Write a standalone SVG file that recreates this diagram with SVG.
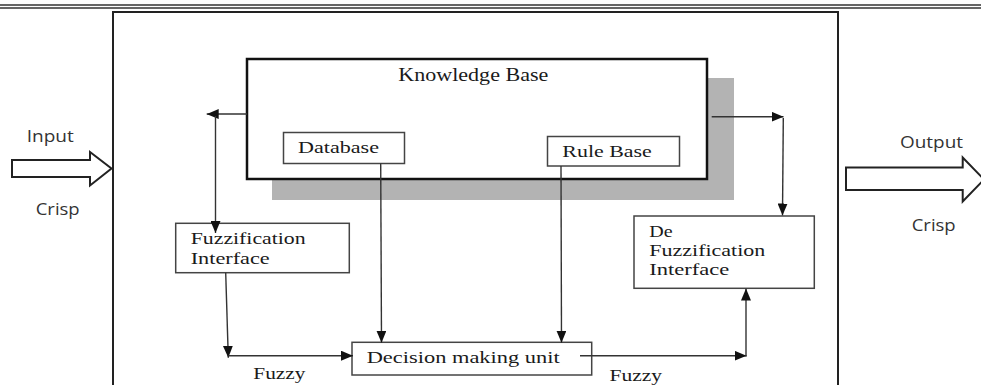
<svg xmlns="http://www.w3.org/2000/svg" width="981" height="385" viewBox="0 0 981 385">
<defs>
<marker id="ah" markerUnits="userSpaceOnUse" markerWidth="12" markerHeight="10" refX="12" refY="5" orient="auto" viewBox="0 0 12 10">
<path d="M0,0 L12,5 L0,10 z" fill="#111"/>
</marker>
<style>
.serif{font-family:"Liberation Serif","Times New Roman",serif;font-size:17px;fill:#1a1a1a}
.sans{font-family:"Open Sans","Liberation Sans",Arial,sans-serif;font-size:16px;fill:#333}
.box{fill:#fff;stroke:#444;stroke-width:1.5}
.conn{fill:none;stroke:#333;stroke-width:1.4}
.arr{marker-end:url(#ah)}
.blk{fill:#fff;stroke:#222;stroke-width:2}
</style>
</defs>
<rect width="981" height="385" fill="#fff"/>
<line x1="0" y1="5" x2="981" y2="5" stroke="#333" stroke-width="1.5"/>
<line x1="0" y1="8" x2="981" y2="8" stroke="#333" stroke-width="1.5"/>
<g id="frame">
<path d="M113,386 L113,12 L838,12 L838,386" fill="none" stroke="#222" stroke-width="2"/>
</g>
<g id="input">
<path class="blk" d="M12,160 L90,160 L90,152 L111.5,168.5 L90,185.5 L90,177 L12,177 z"/>
<text class="sans" x="26.7" y="141.7" textLength="47" lengthAdjust="spacingAndGlyphs">Input</text>
<text class="sans" x="35.7" y="215" textLength="44" lengthAdjust="spacingAndGlyphs">Crisp</text>
</g>
<g id="output">
<path class="blk" d="M846,167.5 L962.7,167.5 L962.7,157.5 L984,179.5 L962.7,201.5 L962.7,190 L846,190 z"/>
<text class="sans" x="900" y="148.3" textLength="63" lengthAdjust="spacingAndGlyphs">Output</text>
<text class="sans" x="911.7" y="230.7" textLength="44" lengthAdjust="spacingAndGlyphs">Crisp</text>
</g>
<g id="knowledge-base">
<rect x="272" y="78" width="462" height="122" fill="#b3b3b3"/>
<rect x="247" y="59" width="460" height="120" fill="#fff" stroke="#111" stroke-width="2.5"/>
<text class="serif" style="font-size:18px" x="398.3" y="81" textLength="150" lengthAdjust="spacingAndGlyphs">Knowledge Base</text>
</g>
<g id="database">
<rect class="box" x="283.5" y="132.5" width="121" height="31"/>
<text class="serif" x="298" y="153" textLength="81" lengthAdjust="spacingAndGlyphs">Database</text>
</g>
<g id="rule-base">
<rect class="box" x="547.5" y="136.5" width="132" height="29.5"/>
<text class="serif" x="562.3" y="157" textLength="89.5" lengthAdjust="spacingAndGlyphs">Rule Base</text>
</g>
<g id="fuzzification">
<rect class="box" x="175.7" y="223.3" width="173.6" height="49.4"/>
<text class="serif" x="190.7" y="244.3" textLength="115" lengthAdjust="spacingAndGlyphs">Fuzzification</text>
<text class="serif" x="190.7" y="264" textLength="79" lengthAdjust="spacingAndGlyphs">Interface</text>
</g>
<g id="decision">
<rect class="box" x="352" y="342.3" width="239.7" height="32.7"/>
<text class="serif" x="366.7" y="363.3" textLength="193" lengthAdjust="spacingAndGlyphs">Decision making unit</text>
</g>
<g id="defuzzification">
<rect class="box" x="634" y="216" width="180.3" height="72.3"/>
<text class="serif" x="649.3" y="236.7" textLength="23.4" lengthAdjust="spacingAndGlyphs">De</text>
<text class="serif" x="649.3" y="255.7" textLength="116" lengthAdjust="spacingAndGlyphs">Fuzzification</text>
<text class="serif" x="649.3" y="275" textLength="80" lengthAdjust="spacingAndGlyphs">Interface</text>
</g>
<g id="connectors">
<line class="conn arr" x1="247" y1="114" x2="206.7" y2="114"/>
<line class="conn arr" x1="215.5" y1="116" x2="215.5" y2="233"/>
<line class="conn arr" x1="711.7" y1="116.7" x2="783.5" y2="116.7"/>
<line class="conn arr" x1="783.3" y1="118" x2="782.5" y2="215.5"/>
<line class="conn arr" x1="380.7" y1="163.5" x2="381.5" y2="342.7"/>
<line class="conn arr" x1="561" y1="166" x2="561.5" y2="342.7"/>
<line class="conn arr" x1="225.7" y1="272.7" x2="228.3" y2="357.7"/>
<line class="conn arr" x1="228.3" y1="355.7" x2="353" y2="355.7"/>
<line class="conn arr" x1="580" y1="355.7" x2="746.5" y2="355.7"/>
<line class="conn arr" x1="746" y1="356.5" x2="746" y2="288.5"/>
</g>
<g id="labels">
<text class="serif" x="253.3" y="379" textLength="52" lengthAdjust="spacingAndGlyphs">Fuzzy</text>
<text class="serif" x="609.5" y="380.5" textLength="52.5" lengthAdjust="spacingAndGlyphs">Fuzzy</text>
</g>
</svg>
